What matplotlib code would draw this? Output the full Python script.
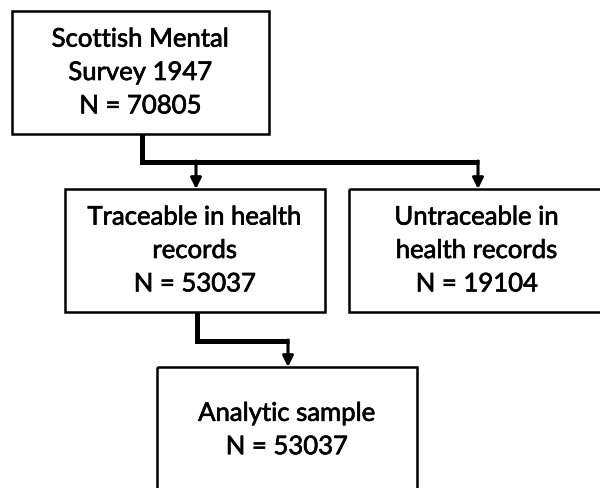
import matplotlib.pyplot as plt
import matplotlib.patheffects as pe
from matplotlib.patches import Rectangle

# box texts
box_labels = [
    "Scottish Mental\nSurvey 1947\nN = 70805",
    "Traceable in health\nrecords\nN = 53037",
    "Untraceable in\nhealth records\nN = 19104",
    "Analytic sample\nN = 53037",
]

fig = plt.figure(figsize=(6, 4.89), dpi=100)
ax = fig.add_axes([0, 0, 1, 1])
ax.set_xlim(0, 600)
ax.set_ylim(489, 0)
ax.axis("off")

# box frames: (left, top, width, height) in pixel units
boxes = [
    (12, 12, 257, 123),
    (65, 190, 260, 123),
    (349, 190, 256, 123),
    (157, 368, 260, 126),
]

# slight stroke so the text reads as heavy as the original
heavy = [pe.withStroke(linewidth=0.5, foreground="black")]

for (x, y, w, h), label in zip(boxes, box_labels):
    ax.add_patch(Rectangle((x, y), w, h, fill=False, edgecolor="black", linewidth=1.8, zorder=2))
    ax.text(x + w / 2, y + h / 2, label, ha="center", va="center",
            fontsize=18.5, family="Lato", linespacing=1.42, color="black",
            path_effects=heavy, zorder=3)

line_kw = dict(color="black", linewidth=3.6, solid_joinstyle="miter", solid_capstyle="butt", zorder=1)

# survey -> traceable / untraceable
ax.plot([142, 142, 479], [135, 163, 163], **line_kw)
for xa in (196, 478):
    ax.annotate("", xy=(xa, 190), xytext=(xa, 162),
                arrowprops=dict(arrowstyle="-|>", color="black", lw=2.2,
                                mutation_scale=16, shrinkA=0, shrinkB=0))

# traceable -> analytic sample
ax.plot([197, 197, 289], [313, 342, 342], **line_kw)
ax.annotate("", xy=(288, 368), xytext=(288, 341),
            arrowprops=dict(arrowstyle="-|>", color="black", lw=2.2,
                            mutation_scale=16, shrinkA=0, shrinkB=0))

fig.savefig("out.png", dpi=100, facecolor="white")
